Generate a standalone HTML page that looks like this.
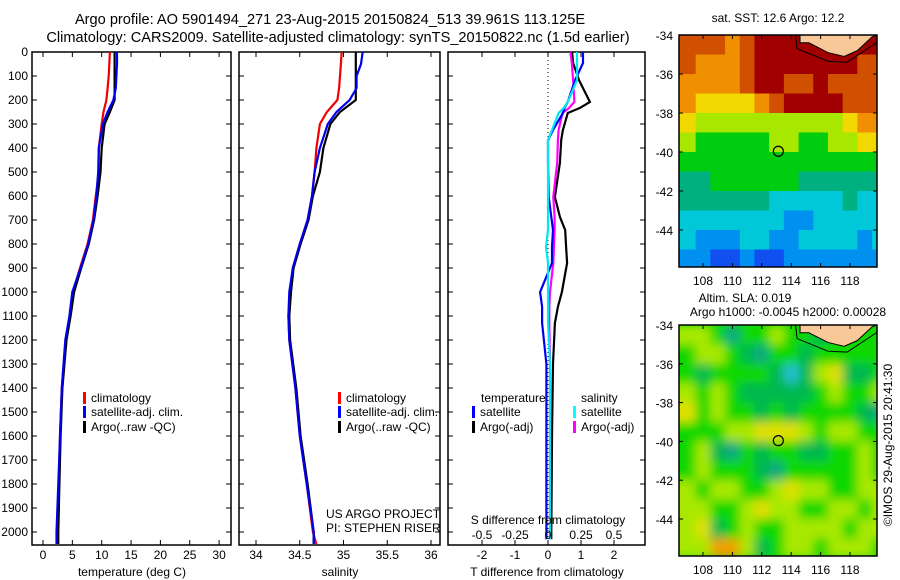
<!DOCTYPE html>
<html><head><meta charset="utf-8"><style>
body{margin:0;background:#fff;}
svg{display:block;font-family:"Liberation Sans",sans-serif;}
text{font-size:12px;fill:#000;}
</style></head><body>
<svg id="c" width="900" height="580" viewBox="0 0 900 580">
<defs><filter id="blur" x="0" y="0" width="1" height="1"><feGaussianBlur stdDeviation="5"/></filter></defs>
<text x="330" y="24" text-anchor="middle" style="font-size:14.6px">Argo profile: AO 5901494_271 23-Aug-2015 20150824_513 39.961S 113.125E</text>
<text x="338" y="42" text-anchor="middle" style="font-size:14.6px">Climatology: CARS2009. Satellite-adjusted climatology: synTS_20150822.nc (1.5d earlier)</text>
<text x="778" y="22" text-anchor="middle">sat. SST: 12.6 Argo: 12.2</text>
<text x="745" y="302" text-anchor="middle">Altim. SLA: 0.019</text>
<text x="788" y="316" text-anchor="middle">Argo h1000: -0.0045 h2000: 0.00028</text>
<text transform="translate(892,445) rotate(-90)" text-anchor="middle">©IMOS 29-Aug-2015 20:41:30</text>
<g id="g"></g>
</svg>
<script>
// ---- profile data ----
const depths = [0,50,100,150,200,250,300,400,500,600,700,800,900,1000,1100,1200,1400,1600,1800,2000,2050];
const tempClim = [11.4,11.3,11.2,11.0,10.8,10.3,10.0,9.5,9.5,9.0,8.5,7.6,6.3,5.1,4.6,3.9,3.2,2.9,2.7,2.4,2.4];
const tempArgo = [12.2,12.2,12.2,12.2,12.2,11.4,10.5,10.0,9.8,9.3,8.7,7.8,6.5,5.3,4.7,4.0,3.3,3.0,2.8,2.6,2.6];
const tempSat = [12.6,12.6,12.5,12.4,12.0,11.0,10.2,9.5,9.4,9.1,8.6,7.7,6.4,5.0,4.5,3.8,3.2,2.9,2.6,2.3,2.3];
const salClim = [34.98,34.97,34.96,34.95,34.93,34.81,34.73,34.69,34.67,34.64,34.59,34.50,34.42,34.39,34.37,34.38,34.45,34.50,34.58,34.65,34.69];
const salArgo = [35.14,35.14,35.14,35.14,35.14,34.96,34.85,34.77,34.73,34.65,34.60,34.51,34.43,34.40,34.38,34.39,34.46,34.51,34.59,34.66,34.66];
const salSat = [35.22,35.20,35.15,35.15,35.07,34.92,34.82,34.73,34.67,34.64,34.59,34.50,34.42,34.38,34.37,34.38,34.45,34.50,34.58,34.66,34.66];
const ddepths = [0,46,117,208,233,254,325,367,462,604,687,742,812,879,1000,1062,1129,1300,1600,2000,2030];
const dTArgo = [0.73,0.76,0.94,1.27,0.97,0.60,0.45,0.40,0.36,0.21,0.36,0.52,0.55,0.58,0.42,0.30,0.21,0.15,0.12,0.10,0.10];
const dTSat = [1.06,1.06,0.82,0.60,0.50,0.45,0.15,0.00,0.00,0.02,0.10,0.15,0.12,0.12,-0.24,-0.18,-0.18,-0.05,-0.05,-0.05,-0.05];
const dSArgo = [0.17,0.18,0.19,0.20,0.16,0.11,0.08,0.075,0.07,0.04,0.05,0.05,0.045,0.04,0.015,0.01,0.01,0.015,0.015,0.015,0.015];
const dSSat = [0.22,0.22,0.22,0.15,0.12,0.08,0.03,0.00,0.00,0.00,0.00,0.00,-0.015,0.00,0.00,0.00,0.00,0.015,0.015,0.015,0.015];
const depthTicks = [0,100,200,300,400,500,600,700,800,900,1000,1100,1200,1300,1400,1500,1600,1700,1800,1900,2000];
const tempTicks = [0,5,10,15,20,25,30];
const salTicks = [34,34.5,35,35.5,36];
const salTickLabels = ["34","34.5","35","35.5","36"];
const dTTicks = [-2,-1,0,1,2];
const dSTicks = [-0.5,-0.25,0,0.25,0.5];
const dSTickLabels = ["-0.5","-0.25","0","0.25","0.5"];
// ---- map data ----
const sstGrid = [
[9,9,9,8,9,10,10,10,10,-1,-1,-1,-1,10],
[9,8,8,8,9,10,10,10,10,10,10,10,9,9],
[8,8,8,8,9,10,10,9,9,10,9,9,9,9],
[8,7,7,7,7,8,9,10,10,10,10,9,9,9],
[7,6,6,6,6,6,6,6,6,6,6,7,8,8],
[6,5,5,5,5,5,6,6,5,5,6,6,7,7],
[5,5,5,5,5,5,5,5,5,5,5,5,5,5],
[4,4,5,5,5,5,5,5,4,4,4,4,4,4],
[4,4,4,4,4,4,3,3,3,3,3,4,3,3],
[3,3,3,3,3,3,3,2,2,3,3,3,3,3],
[3,2,2,2,3,3,2,2,3,3,3,3,2,3],
[2,2,1,1,2,1,1,2,2,2,2,2,2,2]];
const slaGrid = [
[4,4,3,1,3,3,4,3,3,2,-1,-1,-1,3],
[3,4,4,3,2,1,3,3,2,3,3,3,3,3],
[3,2,3,3,3,3,2,0,2,4,5,2,2,3],
[4,3,4,3,2,2,2,2,2,3,4,3,3,4],
[5,3,4,3,3,2,3,2,3,3,3,3,2,1],
[3,3,3,4,4,5,5,5,4,3,4,4,3,3],
[3,4,2,1,3,2,3,3,2,2,3,3,4,3],
[3,4,3,3,3,2,1,3,3,3,3,3,4,3],
[4,3,4,4,3,3,4,5,4,4,3,3,4,4],
[4,4,3,3,4,5,4,4,3,3,4,4,3,4],
[4,5,2,3,4,3,3,4,4,4,4,3,4,4],
[4,4,6,6,4,2,3,4,4,3,4,4,4,3]];
const lonTicks = [108,110,112,114,116,118];
const latTicks = [-34,-36,-38,-40,-42,-44];
const argoLon = 113.125, argoLat = -39.961;

const sstColors = ["#0020a0","#1050f0","#0090f0","#00c8d8","#00b080","#00cc10","#a8e800","#f0d800","#f09000","#d05000","#a00000"];
const slaColors = ["#20c0d0","#10a880","#00b850","#10d800","#a8e800","#e0e000","#f0a000"];

const NS = "http://www.w3.org/2000/svg";
const G = document.getElementById('g');
function mk(tag, attrs, parent){const e=document.createElementNS(NS,tag);for(const k in attrs)e.setAttribute(k,attrs[k]);(parent||G).appendChild(e);return e;}
function txt(x,y,s,anchor,parent){const t=mk('text',{x:x,y:y,'text-anchor':anchor||'middle'},parent);t.textContent=s;return t;}

const yD = d => 52 + d*0.24;
const PT = 545;

function panel(name,x0,x1){
  const g=mk('g',{});
  
  
  const r=mk('rect',{x:x0,y:52,width:x1-x0,height:PT-52,fill:'none',stroke:'#000','stroke-width':1.5},g);
  
  
  depthTicks.forEach(d=>{mk('line',{x1:x0,x2:x0+5,y1:yD(d),y2:yD(d),stroke:'#000'},g);mk('line',{x1:x1-5,x2:x1,y1:yD(d),y2:yD(d),stroke:'#000'},g);});
  return g;
}
function line(g,xs,ds,fx,color,name){
  const p=xs.map((v,i)=>fx(v).toFixed(1)+','+yD(ds[i]).toFixed(1)).join(' ');
  const l=mk('polyline',{points:p,fill:'none',stroke:color,'stroke-width':2.2},g);
  
  
}
function xticks(g,ticks,labels,fx,yl){
  ticks.forEach((t,i)=>{const x=fx(t);mk('line',{x1:x,x2:x,y1:PT,y2:PT-5,stroke:'#000'},g);mk('line',{x1:x,x2:x,y1:52,y2:57,stroke:'#000'},g);txt(x,yl,labels[i],'middle',g);});
}
function legendItem(g,x,y,color,label){
  const m=mk('rect',{x:x,y:y-10,width:3,height:12,fill:color},g);
  
  
  const t=txt(x+8,y,label,'start',g);
  
  
}

depthTicks.forEach(d=>{const t=txt(28,yD(d)+4,String(d),'end');});

const fT = v => 43 + v*5.87;
const p1=panel('temperature-panel',32,231);
line(p1,tempClim,depths,fT,'#f00000','climatology-temp-line');
line(p1,tempArgo,depths,fT,'#000','argo-temp-line');
line(p1,tempSat,depths,fT,'#0000f0','satellite-temp-line');
xticks(p1,tempTicks,tempTicks.map(String),fT,559);
txt(132,576,'temperature (deg C)','middle',p1);
legendItem(p1,83,402,'#f00','climatology');
legendItem(p1,83,416,'#00f','satellite-adj. clim.');
legendItem(p1,83,431,'#000','Argo(..raw -QC)');

const fS = v => 256 + (v-34)*87.5;
const p2=panel('salinity-panel',239,440);
line(p2,salClim,depths,fS,'#f00000','climatology-salinity-line');
line(p2,salArgo,depths,fS,'#000','argo-salinity-line');
line(p2,salSat,depths,fS,'#0000f0','satellite-salinity-line');
xticks(p2,salTicks,salTickLabels,fS,559);
txt(340,576,'salinity','middle',p2);
legendItem(p2,338,402,'#f00','climatology');
legendItem(p2,338,416,'#00f','satellite-adj. clim.');
legendItem(p2,338,431,'#000','Argo(..raw -QC)');
txt(326,518,'US ARGO PROJECT','start',p2);
txt(326,532,'PI: STEPHEN RISER','start',p2);

const fdT = v => 548 + v*33;
const fdS = v => 548 + v*132;
const p3=panel('difference-panel',448,645);
mk('line',{x1:548,x2:548,y1:52,y2:PT,stroke:'#000','stroke-dasharray':'1,3'},p3);
line(p3,dTArgo,ddepths,fdT,'#000','argo-t-diff-line');
line(p3,dSArgo,ddepths,fdS,'#ff00ff','argo-s-diff-line');
line(p3,dTSat,ddepths,fdT,'#0000f0','satellite-t-diff-line');
line(p3,dSSat,ddepths,fdS,'#00e8f0','satellite-s-diff-line');
xticks(p3,dTTicks,dTTicks.map(String),fdT,559);
dSTicks.forEach((t,i)=>{txt(fdS(t),539,dSTickLabels[i],'middle',p3);});
txt(548,524,'S difference from climatology','middle',p3);
txt(547,576,'T difference from climatology','middle',p3);
txt(481,402,'temperature','start',p3);
txt(581,402,'salinity','start',p3);
legendItem(p3,472,416,'#00f','satellite');
legendItem(p3,472,431,'#000','Argo(-adj)');
legendItem(p3,573,416,'#0ff','satellite');
legendItem(p3,573,431,'#f0f','Argo(-adj)');

let clipN=0;
function map(name,grid,colors,top,bottom,lat34y,lat44y,tickLabelY,smooth,bg){
  const x0=679,x1=877;
  const fx = lon => 703 + (lon-108)*14.7;
  const fy = lat => lat34y + (-34-lat)*(lat44y-lat34y)/10;
  const g=mk('g',{});
  
  
  const cid='clip'+(clipN++);
  const cp=mk('clipPath',{id:cid},g);mk('rect',{x:x0,y:top,width:x1-x0,height:bottom-top},cp);
  const cg=mk('g',{'clip-path':'url(#'+cid+')'},g);
  mk('rect',{x:x0,y:top,width:x1-x0,height:bottom-top,fill:bg},cg);
  const cells=mk('g',smooth?{filter:'url(#blur)'}:{},cg);
  grid.forEach((row,r)=>row.forEach((v,c)=>{
    if(v<0) return;
    const lonA=106.5+c, latA=-34-r;
    const xa = c===0 ? x0-12 : fx(lonA);
    const cell=mk('rect',{x:xa,y:fy(latA),width:fx(lonA+1)-xa+0.5,height:fy(latA-1)-fy(latA)+0.5,fill:colors[v]},cells);
    
    
  }));
  const land=mk('path',{d:`M${fx(114.6)},${top} L${fx(114.6)},${fy(-34.4)} L${fx(115.2)},${fy(-34.4)} L${fx(116.5)},${fy(-34.9)} L${fx(117.6)},${fy(-35.1)} L${fx(118.5)},${fy(-34.8)} L${fx(119.5)},${fy(-34.1)} L${x1},${top} Z`,fill:'#f8c898',stroke:'#000','stroke-width':1},cg);
  
  
  mk('path',{d:`M${fx(114.3)},${top} L${fx(114.4)},${fy(-34.7)} L${fx(116.5)},${fy(-35.35)} L${fx(117.8)},${fy(-35.4)} L${fx(119.8)},${fy(-34.4)} L${x1},${fy(-34.2)}`,fill:'none',stroke:'#000','stroke-width':1},cg);
  mk('rect',{x:x0,y:top,width:x1-x0,height:bottom-top,fill:'none',stroke:'#000','stroke-width':1.5},g);
  lonTicks.forEach(l=>{const x=fx(l);mk('line',{x1:x,x2:x,y1:top,y2:top+4,stroke:'#000'},g);mk('line',{x1:x,x2:x,y1:bottom,y2:bottom-4,stroke:'#000'},g);txt(x,tickLabelY,String(l),'middle',g);});
  latTicks.forEach(l=>{const y=fy(l);mk('line',{x1:x0,x2:x0+4,y1:y,y2:y,stroke:'#000'},g);mk('line',{x1:x1,x2:x1-4,y1:y,y2:y,stroke:'#000'},g);txt(673,y+5,String(l),'end',g);});
  const c=mk('circle',{cx:fx(argoLon),cy:fy(argoLat),r:5,fill:'none',stroke:'#000','stroke-width':1.2},g);
  
  
}
map('sst-map',sstGrid,sstColors,35,267,35,230,285,false,'#a00000');
map('sla-map',slaGrid,slaColors,325,556,325,519,574,true,'#10d800');
</script>
</body></html>
